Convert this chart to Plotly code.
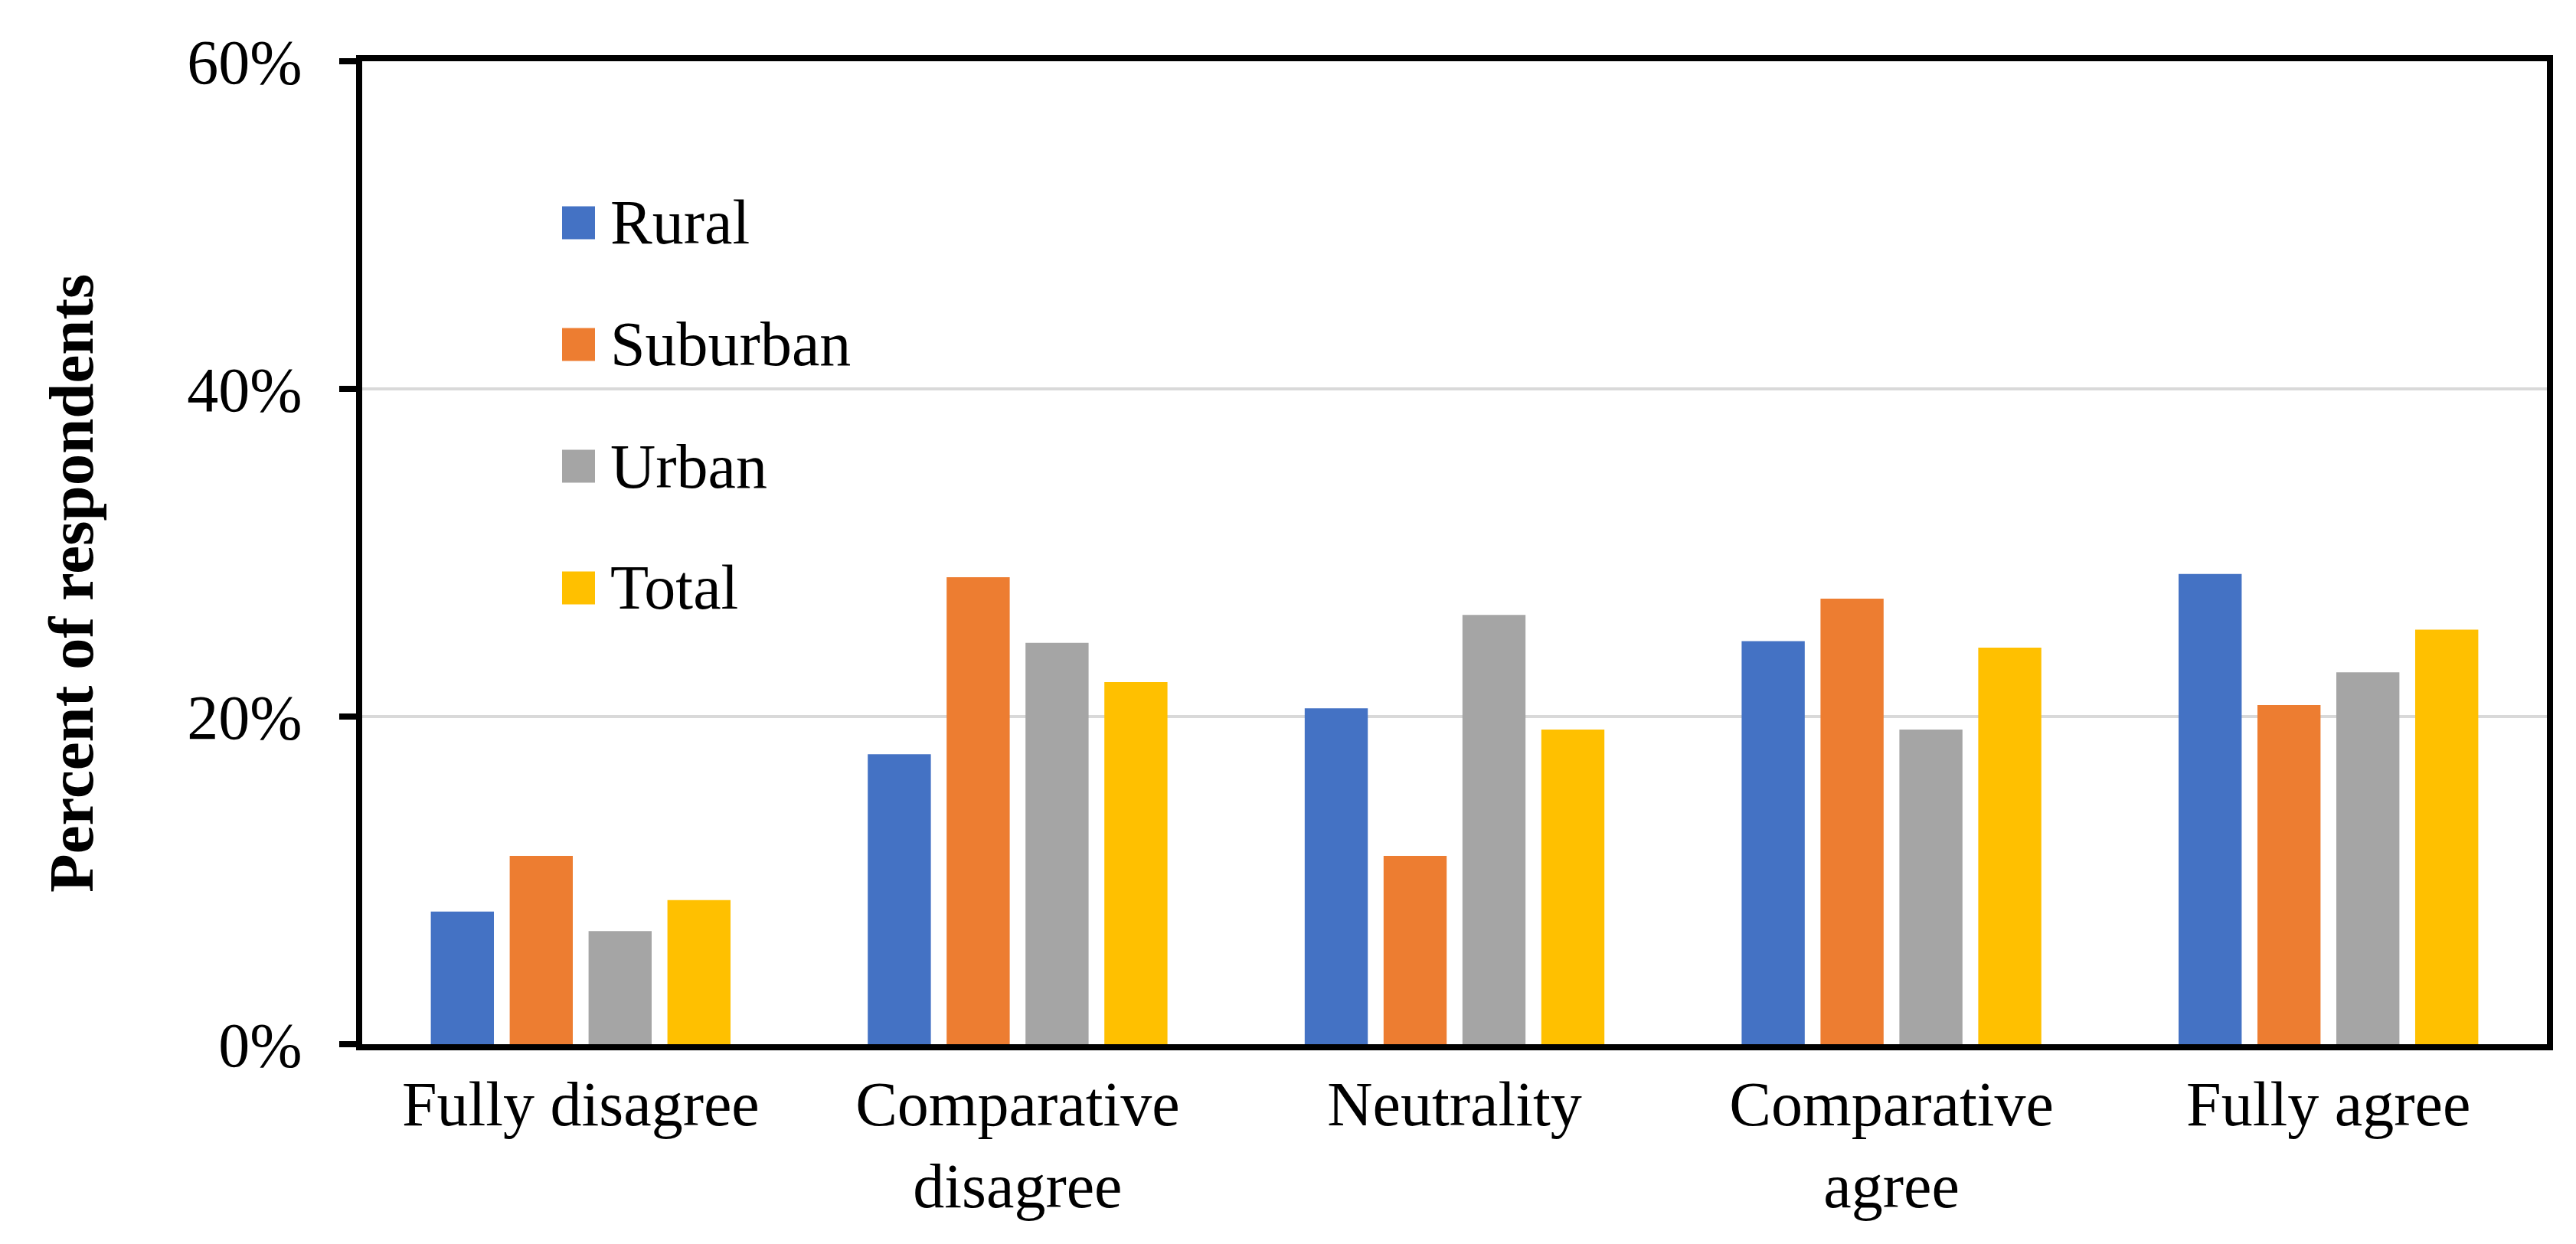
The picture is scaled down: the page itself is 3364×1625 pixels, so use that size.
import plotly.graph_objects as go

categories = ["Fully disagree", "Comparative<br>disagree", "Neutrality", "Comparative<br>agree", "Fully agree"]
series_names = ["Rural", "Suburban", "Urban", "Total"]
rural = [8.1, 17.7, 20.5, 24.6, 28.7]
suburban = [11.5, 28.5, 11.5, 27.2, 20.7]
urban = [6.9, 24.5, 26.2, 19.2, 22.7]
total = [8.8, 22.1, 19.2, 24.2, 25.3]
colors = ["#4472C4", "#ED7D31", "#A5A5A5", "#FFC000"]
y_ticks = [0, 20, 40, 60]
y_ticklabels = ["0%", "20%", "40%", "60%"]
y_title = "Percent of respondents"

values = [rural, suburban, urban, total]

W, H = 3364, 1625
ML, MR, MT, MB = 465, 46, 72, 269
FONT = "Liberation Serif, Times New Roman, serif"

fig = go.Figure()
for name, vals, col in zip(series_names, values, colors):
    fig.add_trace(go.Bar(x=categories, y=vals, name=name, marker_color=col,
                         marker_line_width=0, showlegend=False))

plot_w = W - ML - MR
plot_h = H - MT - MB

# manual legend (large square swatches like the original)
sq = 43
sq_left_px = 726 - ML
first_center_px = 283 - MT
step_px = 159
for i, (name, col) in enumerate(zip(series_names, colors)):
    cy = first_center_px + i * step_px
    x0 = sq_left_px / plot_w
    x1 = (sq_left_px + sq) / plot_w
    y0 = 1 - (cy + sq / 2) / plot_h
    y1 = 1 - (cy - sq / 2) / plot_h
    fig.add_shape(type="rect", xref="paper", yref="paper", x0=x0, x1=x1, y0=y0, y1=y1,
                  fillcolor=col, line_width=0)
    fig.add_annotation(xref="paper", yref="paper", x=(787 - ML) / plot_w, y=1 - cy / plot_h,
                       text=name, showarrow=False, xanchor="left", yanchor="middle",
                       font=dict(family=FONT, size=82, color="black"))

# y-axis title
fig.add_annotation(xref="paper", yref="paper", x=(85 - ML) / plot_w, y=1 - (754 - MT) / plot_h,
                   text="<b>" + y_title + "</b>", textangle=-90, showarrow=False,
                   xanchor="center", yanchor="middle",
                   font=dict(family=FONT, size=83, color="black"))

fig.update_layout(
    width=W, height=H,
    margin=dict(l=ML, r=MR, t=MT, b=MB),
    paper_bgcolor="white", plot_bgcolor="white",
    barmode="group", bargap=0.278, bargroupgap=0.2,
    font=dict(family=FONT, size=82, color="black"),
)
fig.update_xaxes(
    showline=True, linecolor="black", linewidth=8, mirror=True,
    ticks="", showgrid=False,
    tickfont=dict(family=FONT, size=82, color="black"),
)
fig.update_yaxes(
    range=[0, 60], tickvals=y_ticks, ticktext=y_ticklabels,
    showline=True, linecolor="black", linewidth=8, mirror=True,
    ticks="outside", ticklen=22, tickwidth=8, tickcolor="black",
    ticklabelstandoff=32,
    showgrid=True, gridcolor="#D9D9D9", gridwidth=4,
    zeroline=False,
    tickfont=dict(family=FONT, size=82, color="black"),
)

fig.write_html("out.html")
